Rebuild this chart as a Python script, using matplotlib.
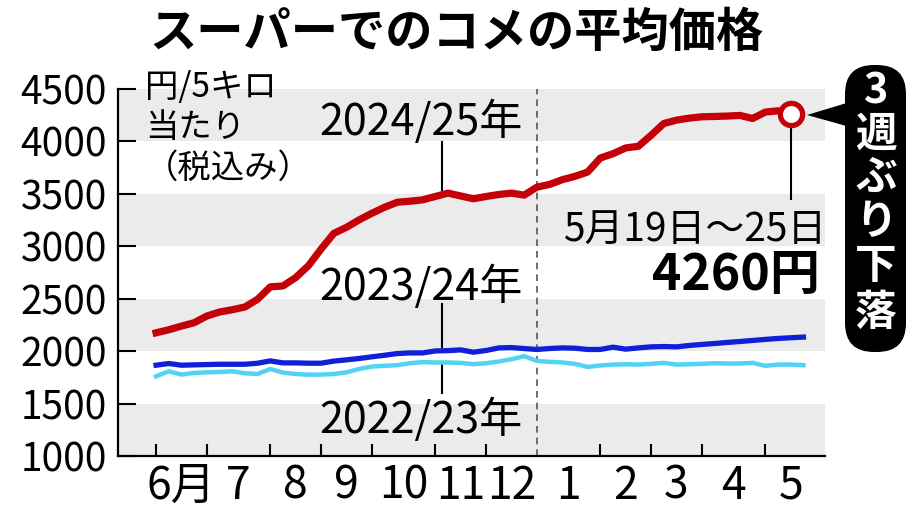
import matplotlib
matplotlib.use("Agg")
import matplotlib.pyplot as plt
from matplotlib.patches import FancyBboxPatch, Polygon
import numpy as np

plt.rcParams['font.family'] = ['Noto Sans CJK JP', 'DejaVu Sans']

# weekly average price (yen per 5 kg, tax incl.), week 0 = first week of June
price_2024_25 = [2175, 2204, 2239, 2271, 2335, 2373, 2395, 2421, 2495, 2613,
                 2622, 2702, 2814, 2974, 3123, 3181, 3252, 3315, 3372, 3420,
                 3430, 3443, 3475, 3507, 3480, 3453, 3475, 3494, 3507, 3488,
                 3564, 3590, 3635, 3667, 3708, 3842, 3883, 3938, 3954, 4059,
                 4171, 4203, 4222, 4235, 4238, 4242, 4248, 4219, 4280, 4292,
                 4260]
price_2023_24 = [1866, 1882, 1866, 1869, 1872, 1875, 1875, 1875, 1885, 1907,
                 1888, 1888, 1885, 1885, 1905, 1917, 1930, 1946, 1961, 1977,
                 1983, 1983, 2002, 2005, 2012, 1990, 2006, 2031, 2034, 2025,
                 2016, 2025, 2031, 2028, 2016, 2016, 2038, 2019, 2031, 2041,
                 2044, 2041, 2054, 2064, 2073, 2083, 2092, 2102, 2112, 2121,
                 2128, 2134]
price_2022_23 = [1760, 1808, 1776, 1792, 1798, 1801, 1808, 1789, 1782, 1830,
                 1795, 1782, 1776, 1776, 1782, 1798, 1830, 1853, 1860, 1866,
                 1885, 1895, 1892, 1892, 1888, 1876, 1885, 1901, 1923, 1952,
                 1907, 1898, 1892, 1879, 1850, 1863, 1872, 1875, 1872, 1879,
                 1888, 1872, 1875, 1879, 1885, 1882, 1882, 1888, 1860, 1872,
                 1872, 1866]

month_starts = [0, 4, 9, 13, 17, 22, 26, 30, 35, 39, 43, 48, 52]
month_labels = ['6月', '7', '8', '9', '10', '11', '12', '1', '2', '3', '4', '5']
year_break = 30
y_ticks = [1000, 1500, 2000, 2500, 3000, 3500, 4000, 4500]

RED = '#c40008'
BLUE = '#1020d8'
CYAN = '#52d3f6'
GREY = '#ebebeb'

W, H = 912, 513
fig = plt.figure(figsize=(W / 100, H / 100), dpi=100)
ax = fig.add_axes([118 / W, (H - 456) / H, (825 - 118) / W, (456 - 89) / H])


def px(x, y):
    # figure pixel (from top-left) -> inches for dpi_scale_trans
    return x / 100, (H - y) / 100


ax.set_xlim(-3, 52.7)
ax.set_ylim(1000, 4500)

# alternating bands
for lo in [1000, 2000, 3000, 4000]:
    ax.axhspan(lo, lo + 500, color=GREY, lw=0, zorder=0)

ax.axvline(year_break, color='#555555', lw=1.2, ls=(0, (4, 3)), zorder=1)

ax.plot(np.arange(len(price_2022_23)), price_2022_23, color=CYAN, lw=3.2,
        solid_joinstyle='round', zorder=3)
ax.plot(np.arange(len(price_2023_24)), price_2023_24, color=BLUE, lw=3.8,
        solid_joinstyle='round', zorder=4)
ax.plot(np.arange(len(price_2024_25)), price_2024_25, color=RED, lw=5.2,
        solid_joinstyle='round', zorder=5)
last = len(price_2024_25) - 1
ax.plot([last], [price_2024_25[-1]], 'o', ms=16, mfc='white', mec=RED,
        mew=3.8, zorder=6)

# leader lines
ax.plot([22.5, 22.5], [3990, 3535], color='black', lw=1.5, zorder=2)
ax.plot([22.5, 22.5], [2450, 2035], color='black', lw=1.5, zorder=2)
ax.plot([22.5, 22.5], [1865, 1600], color='black', lw=1.5, zorder=2)
ax.plot([last, last], [4130, 3455], color='black', lw=1.5, zorder=2)

for s in ['top', 'right']:
    ax.spines[s].set_visible(False)
for s in ['left', 'bottom']:
    ax.spines[s].set_linewidth(1.6)
    ax.spines[s].set_zorder(7)

ax.set_yticks(y_ticks)
ax.set_yticklabels([str(v) for v in y_ticks])
ax.tick_params(axis='y', direction='in', length=13, width=1.5, pad=8,
               labelsize=28)

major = [m for m in month_starts[:-1] if m != year_break]
ax.set_xticks(major)
ax.set_xticklabels([])
ax.tick_params(axis='x', which='major', direction='in', length=9, width=1.5)
centers = [(a + b) / 2 for a, b in zip(month_starts[:-1], month_starts[1:])]
ax.set_xticks(centers, minor=True)
ax.set_xticklabels(month_labels, minor=True)
ax.tick_params(axis='x', which='minor', length=0, pad=5, labelsize=32)

# texts
tr = fig.dpi_scale_trans
fig.text(*px(457, 33), 'スーパーでのコメの平均価格', transform=tr,
         ha='center', va='center', fontsize=34, fontweight='bold')
fig.text(*px(145, 70), '円/5キロ\n当たり\n（税込み）', transform=tr,
         ha='left', va='top', fontsize=24, linespacing=1.2)
fig.text(*px(421, 135), '2024/25年', transform=tr, ha='center',
         va='baseline', fontsize=31)
fig.text(*px(421, 300), '2023/24年', transform=tr, ha='center',
         va='baseline', fontsize=31)
fig.text(*px(421, 433), '2022/23年', transform=tr, ha='center',
         va='baseline', fontsize=31)
fig.text(*px(826, 242), '5月19日～25日', transform=tr, ha='right',
         va='baseline', fontsize=28)
fig.text(*px(820, 290), '4260円', transform=tr, ha='right',
         va='baseline', fontsize=36, fontweight='bold')

# callout box
bx0, by0 = px(845, 352)
box = FancyBboxPatch((bx0, by0), 0.61, 2.87,
                     boxstyle='round,pad=0,rounding_size=0.29',
                     transform=tr, facecolor='black', edgecolor='none')
fig.add_artist(box)
tri = Polygon([px(807, 115), px(850, 102), px(850, 127)], closed=True,
              transform=tr, facecolor='black', edgecolor='none')
fig.add_artist(tri)
for ch, yc in zip(['3', '週', 'ぶ', 'り', '下', '落'],
                  [92, 135, 178, 222, 266, 313]):
    fig.text(*px(876, yc), ch, transform=tr, ha='center', va='center',
             fontsize=30, fontweight='bold', color='white')

fig.savefig('out.png', dpi=100)
